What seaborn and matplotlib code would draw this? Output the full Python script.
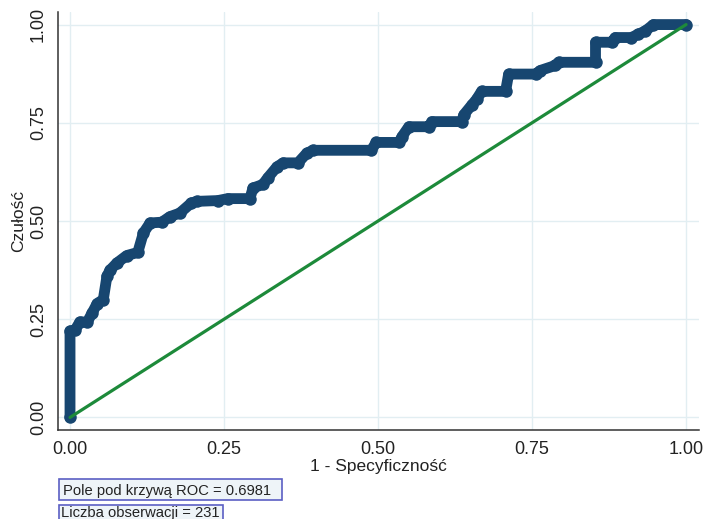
import numpy as np
import pandas as pd
import matplotlib
matplotlib.use('Agg')
import matplotlib.pyplot as plt
import seaborn as sns
from matplotlib.patches import Rectangle

# ROC curve vertices (1 - specificity, sensitivity)
fpr = [0.0, 0.0, 0.008, 0.016, 0.028, 0.036, 0.044, 0.054, 0.060, 0.065,
       0.076, 0.092, 0.110, 0.119, 0.130, 0.149, 0.162, 0.178, 0.197, 0.206,
       0.240, 0.256, 0.292, 0.297, 0.313, 0.321, 0.336, 0.346, 0.370, 0.384,
       0.394, 0.489, 0.497, 0.534, 0.539, 0.550, 0.583, 0.587, 0.636, 0.639,
       0.652, 0.660, 0.668, 0.707, 0.712, 0.756, 0.763, 0.788, 0.793, 0.853,
       0.853, 0.879, 0.885, 0.911, 0.922, 0.934, 0.947, 1.0]
tpr = [0.0, 0.220, 0.222, 0.243, 0.243, 0.266, 0.290, 0.300, 0.360, 0.375,
       0.393, 0.412, 0.420, 0.469, 0.495, 0.497, 0.511, 0.520, 0.546, 0.550,
       0.552, 0.557, 0.557, 0.584, 0.593, 0.610, 0.638, 0.648, 0.648, 0.672,
       0.680, 0.680, 0.700, 0.700, 0.715, 0.740, 0.740, 0.753, 0.753, 0.770,
       0.795, 0.810, 0.830, 0.830, 0.874, 0.874, 0.883, 0.896, 0.904, 0.904,
       0.955, 0.955, 0.967, 0.967, 0.975, 0.984, 1.0, 1.0]
ref_x = [0.0, 1.0]
ref_y = [0.0, 1.0]
ticks = [0.0, 0.25, 0.5, 0.75, 1.0]
tick_labels = ['0.00', '0.25', '0.50', '0.75', '1.00']
auc_text = 'Pole pod krzywą ROC = 0.6981'
n_text = 'Liczba obserwacji = 231'

df = pd.DataFrame({'fpr': fpr, 'tpr': tpr})
ref = pd.DataFrame({'x': ref_x, 'y': ref_y})

sns.set_style('white')
plt.rcParams['font.family'] = ['Liberation Sans', 'DejaVu Sans']

fig = plt.figure(figsize=(7.07, 5.19), dpi=100)
ax = fig.add_axes([58 / 707, 1 - 430 / 519, (699 - 58) / 707, (430 - 12) / 519])

for t in ticks:
    ax.axhline(t, color='#e2eef2', lw=1.0, zorder=0)
    ax.axvline(t, color='#e2eef2', lw=1.0, zorder=0)

sns.lineplot(data=df, x='fpr', y='tpr', sort=False, estimator=None, ax=ax,
             color='#174670', lw=7.8, marker='o', markersize=9,
             markeredgewidth=0, solid_joinstyle='round',
             solid_capstyle='round', zorder=2)
sns.lineplot(data=ref, x='x', y='y', sort=False, estimator=None, ax=ax,
             color='#1d8a3a', lw=2.3, zorder=3)

ax.set_xlim(-0.0195, 1.021)
ax.set_ylim(-0.032, 1.032)
ax.set_xticks(ticks)
ax.set_xticklabels(tick_labels)
ax.set_yticks(ticks)
ax.set_yticklabels(tick_labels, rotation=90, va='center')
ax.tick_params(axis='both', direction='out', length=4, width=1,
               color='#333333', labelsize=13, labelcolor='#222222', pad=4)
ax.set_xlabel('1 - Specyficzność', fontsize=12.5, color='#222222', labelpad=1)
ax.set_ylabel('Czułość', fontsize=12.5, color='#222222', labelpad=3)
for s in ['top', 'right']:
    ax.spines[s].set_visible(False)
for s in ['left', 'bottom']:
    ax.spines[s].set_color('#333333')
    ax.spines[s].set_linewidth(1.1)

# boxed notes below the plot (pixel coordinates converted to figure fraction)
W, H = 707, 519
fig.patches.append(Rectangle((59 / W, 1 - 500 / H), (282 - 59) / W, 21 / H,
                             transform=fig.transFigure, facecolor='#eef4f8',
                             edgecolor='#5b5fc4', lw=1.2))
fig.patches.append(Rectangle((59 / W, 1 - 530 / H), (223 - 59) / W, 25 / H,
                             transform=fig.transFigure, facecolor='#eef4f8',
                             edgecolor='#5b5fc4', lw=1.2))
fig.text(63 / W, 1 - 495 / H, auc_text, fontsize=10.6, color='#222222',
         va='baseline', ha='left')
fig.text(61 / W, 1 - 517 / H, n_text, fontsize=10.6, color='#222222',
         va='baseline', ha='left')

plt.savefig('out.png', dpi=100)
